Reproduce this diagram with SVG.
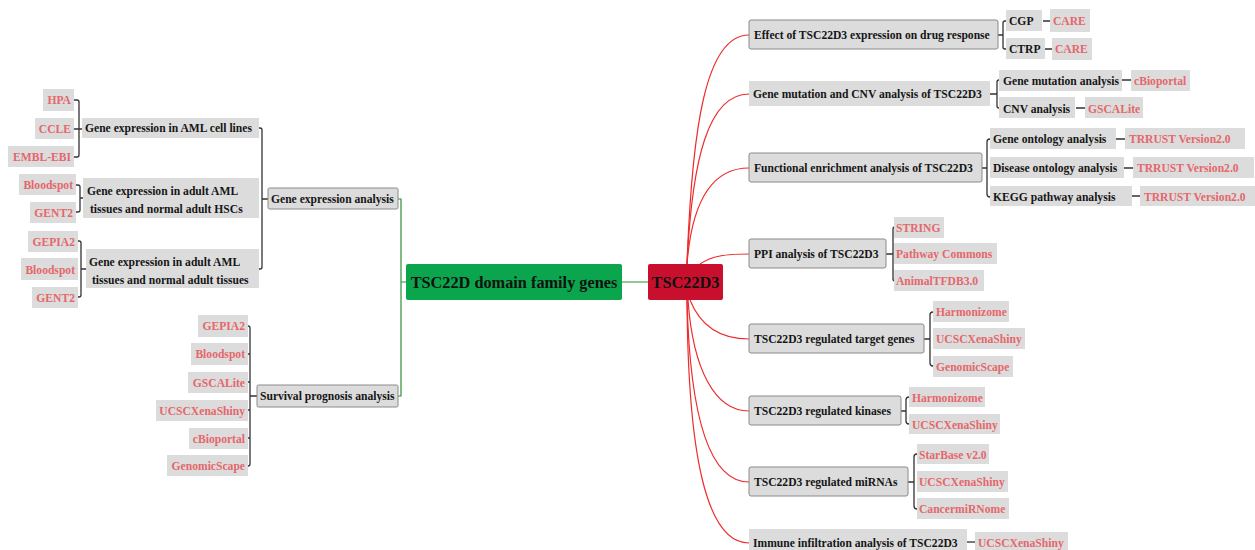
<svg xmlns="http://www.w3.org/2000/svg" width="1255" height="550" viewBox="0 0 1255 550">
<style>
.b{fill:#dcdcdc}
.bb{fill:#dcdcdc;stroke:#8a8a8a;stroke-width:1}
.t{font-family:"Liberation Serif","Times New Roman",serif;font-weight:bold;font-size:11.6px;fill:#161616}
.r{fill:#e5676b}
.e{text-anchor:end}
.br{fill:none;stroke:#333;stroke-width:1.3}
.rc{fill:none;stroke:#ee2b2b;stroke-width:1.2}
.gc{fill:none;stroke:#2f8f35;stroke-width:1.2}
.big{font-family:"Liberation Serif","Times New Roman",serif;font-weight:bold;font-size:16.3px;fill:#111}
</style>
<rect width="1255" height="550" fill="#fff"/>

<g id="connectors">
  <path class="gc" d="M398,199 H401 V396 H398 M401,282 H406 M622,282 H648"/>
  <path class="rc" d="M687,264 C692,130 705,35 749,35"/>
  <path class="rc" d="M687,264 C692,160 708,94 749,94"/>
  <path class="rc" d="M687,264 C692,200 712,168 749,168"/>
  <path class="rc" d="M700,264 C712,256 725,254 749,254"/>
  <path class="rc" d="M690,300 C700,325 720,339 749,339"/>
  <path class="rc" d="M688,300 C693,370 715,411 749,411"/>
  <path class="rc" d="M687,300 C690,420 710,482 749,482"/>
  <path class="rc" d="M687,300 C688,450 705,543 749,543"/>
  <path class="br" d="M998,35 H1003 M1006,21 H1005 Q1003,21 1003,23 V47 Q1003,49 1005,49 H1006 M1043,21 H1050 M1045,49 H1052"/>
  <path class="br" d="M990,94 H997 M999,80 Q997,80 997,82 V106 Q997,108 999,108 M1122,80 H1131 M1076,108 H1085"/>
  <path class="br" d="M982,168 H987 M990,139 Q987,139 987,142 V194 Q987,197 990,197 M1116,139 H1125 M1124,168 H1133 M1132,196 H1140"/>
  <path class="br" d="M886,254 H893 M895,227 Q893,227 893,229 V279 Q893,281 895,281"/>
  <path class="br" d="M924,339 H930 M933,312 Q930,312 930,315 V363 Q930,366 933,366"/>
  <path class="br" d="M901,411 H906 M909,397 Q906,397 906,400 V421 Q906,424 909,424"/>
  <path class="br" d="M908,482 H914 M917,454 Q914,454 914,457 V506 Q914,509 917,509"/>
  <path class="br" d="M967,542 H975"/>
  <path class="br" d="M259,128 H260 Q262,128 262,130 V267 Q262,269 260,269 H259 M262,199 H268"/>
  <path class="br" d="M74,100 H77 Q79,100 79,102 V155 Q79,157 77,157 H74 M74,129 H82"/>
  <path class="br" d="M76,185 H78 Q80,185 80,187 V210 Q80,212 78,212 H76 M80,198 H83"/>
  <path class="br" d="M78,241 H79 Q81,241 81,243 V295 Q81,297 79,297 H78 M81,269 H86"/>
  <path class="br" d="M247,326 H248 Q250,326 250,328 V464 Q250,466 248,466 H247 M248,354 H250 M248,382 H250 M248,410 H250 M248,438 H250 M250,396 H257"/>
</g>

<g id="root">
  <rect x="406" y="264" width="216" height="36" rx="2" fill="#0aa54c"/>
  <text class="big" x="514" y="288" text-anchor="middle">TSC22D domain family genes</text>
</g>
<g id="tsc22d3">
  <rect x="648" y="264" width="75" height="36" rx="2" fill="#c8102e"/>
  <text class="big" x="685.5" y="288" text-anchor="middle">TSC22D3</text>
</g>

<g id="gene-expression-analysis">
  <rect class="bb" x="268" y="188" width="130" height="21" rx="1.5"/>
  <text class="t" x="271" y="203">Gene expression analysis</text>
</g>
<g id="aml-cell-lines">
  <rect class="b" x="82" y="118" width="177" height="20"/>
  <text class="t" x="85" y="132">Gene expression in AML cell lines</text>
</g>
<g id="hpa"><rect class="b" x="43" y="89" width="31" height="22"/><text class="t r e" x="71" y="104">HPA</text></g>
<g id="ccle"><rect class="b" x="35" y="118" width="39" height="21"/><text class="t r e" x="71" y="133">CCLE</text></g>
<g id="embl"><rect class="b" x="8" y="146" width="66" height="21"/><text class="t r e" x="71" y="161">EMBL-EBI</text></g>

<g id="aml-hsc">
  <rect class="b" x="83" y="178" width="176" height="40"/>
  <text class="t" x="87" y="195">Gene expression in adult AML</text>
  <text class="t" x="90" y="213">tissues and normal adult HSCs</text>
</g>
<g id="bloodspot1"><rect class="b" x="19" y="174" width="57" height="21"/><text class="t r e" x="73" y="189">Bloodspot</text></g>
<g id="gent2-1"><rect class="b" x="30" y="202" width="46" height="21"/><text class="t r e" x="73" y="217">GENT2</text></g>

<g id="aml-tissues">
  <rect class="b" x="86" y="249" width="173" height="39"/>
  <text class="t" x="89" y="266">Gene expression in adult AML</text>
  <text class="t" x="92" y="284">tissues and normal adult tissues</text>
</g>
<g id="gepia2-1"><rect class="b" x="28" y="231" width="50" height="21"/><text class="t r e" x="75" y="246">GEPIA2</text></g>
<g id="bloodspot2"><rect class="b" x="21" y="258" width="57" height="22"/><text class="t r e" x="75" y="274">Bloodspot</text></g>
<g id="gent2-2"><rect class="b" x="32" y="287" width="46" height="21"/><text class="t r e" x="75" y="302">GENT2</text></g>

<g id="survival">
  <rect class="bb" x="257" y="385" width="141" height="22" rx="1.5"/>
  <text class="t" x="260" y="400">Survival prognosis analysis</text>
</g>
<g id="s-gepia2"><rect class="b" x="198" y="315" width="50" height="22"/><text class="t r e" x="245" y="330">GEPIA2</text></g>
<g id="s-bloodspot"><rect class="b" x="191" y="343" width="57" height="22"/><text class="t r e" x="245" y="358">Bloodspot</text></g>
<g id="s-gscalite"><rect class="b" x="188" y="372" width="60" height="21"/><text class="t r e" x="245" y="387">GSCALite</text></g>
<g id="s-ucsc"><rect class="b" x="156" y="400" width="92" height="21"/><text class="t r e" x="245" y="415">UCSCXenaShiny</text></g>
<g id="s-cbio"><rect class="b" x="189" y="428" width="59" height="21"/><text class="t r e" x="245" y="443">cBioportal</text></g>
<g id="s-genomic"><rect class="b" x="167" y="455" width="81" height="21"/><text class="t r e" x="245" y="470">GenomicScape</text></g>

<g id="drug">
  <rect class="bb" x="749" y="20" width="249" height="29" rx="2"/>
  <text class="t" x="754" y="39">Effect of TSC22D3 expression on drug response</text>
</g>
<g id="cgp"><rect class="b" x="1006" y="10" width="36" height="21"/><text class="t" x="1009" y="25">CGP</text></g>
<g id="care1"><rect class="b" x="1050" y="9" width="40" height="23"/><text class="t r" x="1053" y="25">CARE</text></g>
<g id="ctrp"><rect class="b" x="1006" y="38" width="39" height="21"/><text class="t" x="1009" y="53">CTRP</text></g>
<g id="care2"><rect class="b" x="1052" y="38" width="40" height="22"/><text class="t r" x="1055" y="53">CARE</text></g>

<g id="mutation">
  <rect class="b" x="749" y="81" width="241" height="25"/>
  <text class="t" x="753" y="98">Gene mutation and CNV analysis of TSC22D3</text>
</g>
<g id="gene-mut"><rect class="b" x="999" y="70" width="123" height="21"/><text class="t" x="1003" y="85">Gene mutation analysis</text></g>
<g id="cbio"><rect class="b" x="1131" y="70" width="59" height="21"/><text class="t r" x="1134" y="85">cBioportal</text></g>
<g id="cnv"><rect class="b" x="999" y="97" width="76" height="21"/><text class="t" x="1003" y="113">CNV analysis</text></g>
<g id="gscalite"><rect class="b" x="1085" y="97" width="58" height="21"/><text class="t r" x="1088" y="113">GSCALite</text></g>

<g id="functional">
  <rect class="bb" x="749" y="153" width="233" height="29" rx="2"/>
  <text class="t" x="754" y="172">Functional enrichment analysis of TSC22D3</text>
</g>
<g id="go"><rect class="b" x="990" y="128" width="126" height="21"/><text class="t" x="993" y="143">Gene ontology analysis</text></g>
<g id="trrust1"><rect class="b" x="1125" y="128" width="120" height="21"/><text class="t r" x="1129" y="143">TRRUST Version2.0</text></g>
<g id="do"><rect class="b" x="990" y="157" width="134" height="21"/><text class="t" x="993" y="172">Disease ontology analysis</text></g>
<g id="trrust2"><rect class="b" x="1133" y="157" width="121" height="21"/><text class="t r" x="1137" y="172">TRRUST Version2.0</text></g>
<g id="kegg"><rect class="b" x="990" y="186" width="142" height="20"/><text class="t" x="993" y="201">KEGG pathway analysis</text></g>
<g id="trrust3"><rect class="b" x="1140" y="186" width="115" height="20"/><text class="t r" x="1144" y="201">TRRUST Version2.0</text></g>

<g id="ppi">
  <rect class="bb" x="749" y="239" width="137" height="29" rx="2"/>
  <text class="t" x="754" y="258">PPI analysis of TSC22D3</text>
</g>
<g id="string"><rect class="b" x="894" y="217" width="50" height="21"/><text class="t r" x="896" y="232">STRING</text></g>
<g id="pathway"><rect class="b" x="894" y="243" width="103" height="21"/><text class="t r" x="896" y="258">Pathway Commons</text></g>
<g id="animaltfdb"><rect class="b" x="894" y="270" width="90" height="21"/><text class="t r" x="896" y="285">AnimalTFDB3.0</text></g>

<g id="targets">
  <rect class="bb" x="749" y="324" width="175" height="29" rx="2"/>
  <text class="t" x="754" y="343">TSC22D3 regulated target genes</text>
</g>
<g id="t-harm"><rect class="b" x="933" y="301" width="76" height="21"/><text class="t r" x="936" y="316">Harmonizome</text></g>
<g id="t-ucsc"><rect class="b" x="933" y="328" width="92" height="21"/><text class="t r" x="936" y="343">UCSCXenaShiny</text></g>
<g id="t-genomic"><rect class="b" x="933" y="356" width="80" height="21"/><text class="t r" x="936" y="371">GenomicScape</text></g>

<g id="kinases">
  <rect class="bb" x="749" y="396" width="152" height="29" rx="2"/>
  <text class="t" x="754" y="415">TSC22D3 regulated kinases</text>
</g>
<g id="k-harm"><rect class="b" x="909" y="387" width="76" height="20"/><text class="t r" x="912" y="402">Harmonizome</text></g>
<g id="k-ucsc"><rect class="b" x="909" y="414" width="91" height="20"/><text class="t r" x="912" y="429">UCSCXenaShiny</text></g>

<g id="mirnas">
  <rect class="bb" x="749" y="467" width="159" height="29" rx="2"/>
  <text class="t" x="754" y="486">TSC22D3 regulated miRNAs</text>
</g>
<g id="m-starbase"><rect class="b" x="917" y="444" width="72" height="20"/><text class="t r" x="919" y="459">StarBase v2.0</text></g>
<g id="m-ucsc"><rect class="b" x="917" y="471" width="91" height="21"/><text class="t r" x="919" y="486">UCSCXenaShiny</text></g>
<g id="m-cancer"><rect class="b" x="917" y="498" width="92" height="21"/><text class="t r" x="919" y="513">CancermiRNome</text></g>

<g id="immune">
  <rect class="b" x="749" y="529" width="218" height="25"/>
  <text class="t" x="753" y="547">Immune infiltration analysis of TSC22D3</text>
</g>
<g id="i-ucsc"><rect class="b" x="975" y="532" width="93" height="20"/><text class="t r" x="978" y="547">UCSCXenaShiny</text></g>
</svg>
